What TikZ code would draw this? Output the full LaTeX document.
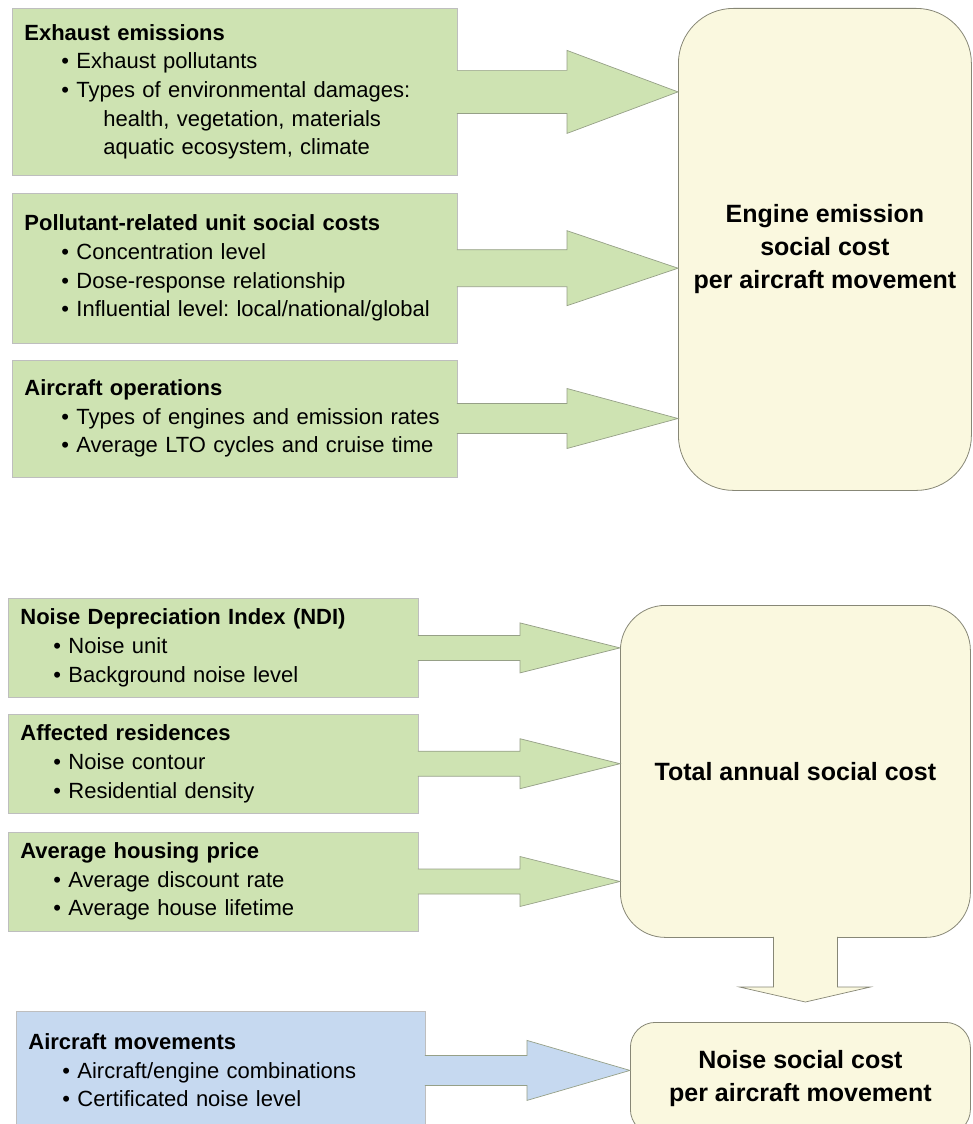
\documentclass[tikz,border=0pt]{standalone}
\usepackage{fontspec}
\setmainfont{Liberation Sans}
\frenchspacing
\usetikzlibrary{positioning,calc}

\definecolor{leafgreen}{RGB}{206,227,178}
\definecolor{paleblue}{RGB}{198,217,240}
\definecolor{creamfill}{RGB}{250,248,223}
\definecolor{boxline}{RGB}{190,190,190}
\definecolor{creamline}{RGB}{135,135,118}
\definecolor{arrowline}{RGB}{150,160,135}

% bullet line inside an input box
\newlength{\bulindent}
\setlength{\bulindent}{37pt}
\newcommand{\bul}[1]{\\\hspace*{\bulindent}\textbullet\ #1}
% block arrow from the east side of #2 to the west side of #3
% #4 shaft half width, #5 head half width, #6 head length
\newcommand{\fatarrow}[6][]{%
  \filldraw[arrowbody,#1] let \p1=(#2.east), \p2=(#3.west) in
    (\x1-1pt,\y1+#4) -- (\x2-#6,\y1+#4) -- (\x2-#6,\y1+#5) -- (\x2,\y1)
    -- (\x2-#6,\y1-#5) -- (\x2-#6,\y1-#4) -- (\x1-1pt,\y1-#4);}

\tikzset{
  inbox/.style={rectangle, draw=boxline, line width=0.8pt, fill=leafgreen,
    align=left, inner xsep=12pt, anchor=north west,
    font=\fontsize{22}{28.7}\selectfont},
  outbox/.style={rectangle, draw=creamline, line width=0.8pt, fill=creamfill,
    align=center, anchor=north west,
    font=\fontsize{25}{33}\selectfont\bfseries},
  arrowbody/.style={draw=arrowline, fill=leafgreen, line width=0.7pt},
}

\begin{document}
\begin{tikzpicture}[x=1pt,y=-1pt]
  \useasboundingbox (0,0) rectangle (972,1124);

  % engine emissions
  \node[inbox, text width=421pt, minimum height=167pt] (exhaust) at (12,8)
    {\textbf{Exhaust emissions}\bul{Exhaust pollutants}\bul{Types of environmental damages:}\\
     \hspace*{79pt}health, vegetation, materials\\
     \hspace*{79pt}aquatic ecosystem, climate};
  \node[inbox, text width=421pt, minimum height=150pt, below=17pt of exhaust] (unitcost)
    {\textbf{Pollutant-related unit social costs}\bul{Concentration level}%
     \bul{Dose-response relationship}\bul{Influential level: local/national/global}};
  \node[inbox, text width=421pt, minimum height=117pt, below=16pt of unitcost] (operations)
    {\textbf{Aircraft operations}\bul{Types of engines and emission rates}%
     \bul{Average LTO cycles and cruise time}};
  \node[outbox, rounded corners=55pt, minimum width=293pt, minimum height=482pt] (emission)
    at (678,8) {Engine emission\\social cost\\per aircraft movement};

  \fatarrow{exhaust}{emission}{21.5pt}{41.5pt}{111pt}
  \fatarrow{unitcost}{emission}{18.5pt}{37.5pt}{111pt}
  \fatarrow{operations}{emission}{15pt}{30pt}{111pt}

  % noise
  \setlength{\bulindent}{33pt}
  \node[inbox, text width=386pt, minimum height=99pt] (ndi) at (8,598)
    {\textbf{Noise Depreciation Index (NDI)}\bul{Noise unit}\bul{Background noise level}};
  \node[inbox, text width=386pt, minimum height=99pt, below=16pt of ndi] (residences)
    {\textbf{Affected residences}\bul{Noise contour}\bul{Residential density}};
  \node[inbox, text width=386pt, minimum height=99pt, below=18pt of residences] (housing)
    {\textbf{Average housing price}\bul{Average discount rate}\bul{Average house lifetime}};
  \node[outbox, rounded corners=45pt, minimum width=350pt, minimum height=332pt] (annual)
    at (620,605) {Total annual social cost};

  \fatarrow{ndi}{annual}{12.5pt}{25pt}{100pt}
  \fatarrow{residences}{annual}{12.5pt}{25pt}{100pt}
  \fatarrow{housing}{annual}{12.5pt}{25pt}{100pt}

  \setlength{\bulindent}{34pt}
  \node[inbox, fill=paleblue, text width=385pt, minimum height=118pt] (movements) at (16,1011)
    {\textbf{Aircraft movements}\bul{Aircraft/engine combinations}\bul{Certificated noise level}};
  \node[outbox, rounded corners=25pt, minimum width=340pt, minimum height=112pt] (noisecost)
    at (630,1022) {Noise social cost\\per aircraft movement};

  \fatarrow[fill=paleblue]{movements}{noisecost}{15pt}{30pt}{103pt}

  \coordinate (drop) at ($(annual.south)+(10,0)$);
  \filldraw[arrowbody, fill=creamfill, draw=creamline] let \p1=(drop), \p2=(noisecost.north) in
    (\x1-32pt,\y1+1pt) -- (\x1-32pt,\y2+35pt) -- (\x1-66pt,\y2+35pt) -- (\x1,\y2+20pt)
    -- (\x1+65pt,\y2+35pt) -- (\x1+32pt,\y2+35pt) -- (\x1+32pt,\y1+1pt);
\end{tikzpicture}
\end{document}
